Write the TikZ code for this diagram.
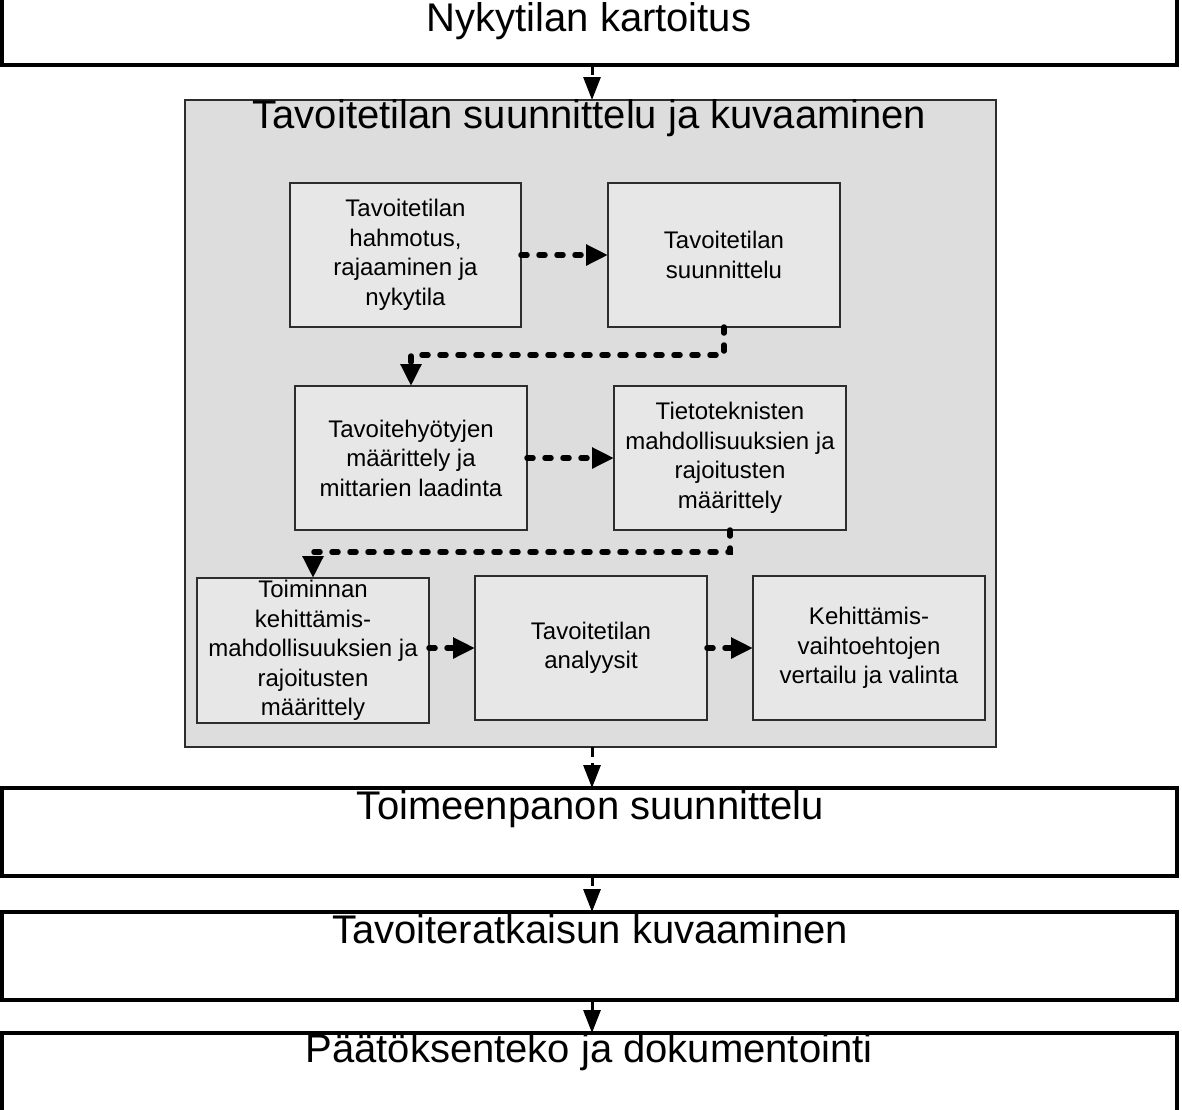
\documentclass[tikz,border=0pt]{standalone}
\usepackage{fontspec}
\setmainfont{Liberation Sans}
\usetikzlibrary{arrows.meta,calc}
\definecolor{panelgray}{RGB}{221,221,221}
\definecolor{innergray}{RGB}{231,231,231}
\definecolor{edgegray}{RGB}{45,45,45}
\begin{document}
\begin{tikzpicture}[x=1pt,y=-1pt,
  outerbox/.style={draw=black, line width=3.5pt, fill=white, inner sep=0pt, outer sep=0pt, minimum width=1175pt},
  panel/.style={draw=edgegray, line width=2pt, fill=panelgray, inner sep=0pt, outer sep=0pt},
  stepbox/.style={draw=edgegray, line width=2pt, fill=innergray, inner sep=0pt, outer sep=0pt,
    minimum width=232pt, minimum height=144pt, align=center, font=\fontsize{24}{29.5}\selectfont},
  titletxt/.style={font=\fontsize{40}{48}\selectfont, anchor=base, inner sep=0pt},
  flow/.style={line width=5.5pt, dash pattern=on 6pt off 12pt, line cap=round,
    -{Triangle[length=22pt,width=20pt]}},
  vflow/.style={line width=3pt, dash pattern=on 10pt off 6pt,
    -{Triangle[length=23pt,width=17pt]}}
]
\useasboundingbox (0,0) rectangle (1182,1109);
\fill[white] (0,0) rectangle (1182,1109);

% outer boxes
\node[outerbox, minimum height=67pt] (top) at (589.5,31.5) {};
\node[titletxt] (toptxt) at (589,31) {Nykytilan kartoitus};

\node[panel, minimum width=811pt, minimum height=647pt] (panel) at (590.5,423.5) {};
\node[titletxt] (paneltxt) at (589.5,128) {Tavoitetilan suunnittelu ja kuvaaminen};

\node[outerbox, minimum height=88pt] (impl) at (589.5,832) {};
\node[titletxt] (impltxt) at (590.5,819) {Toimeenpanon suunnittelu};

\node[outerbox, minimum height=88pt] (sol) at (589.5,956) {};
\node[titletxt] (soltxt) at (590,943) {Tavoiteratkaisun kuvaaminen};

\node[outerbox, minimum height=88pt] (dec) at (589.5,1077) {};
\node[titletxt] (dectxt) at (589,1062) {Päätöksenteko ja dokumentointi};

% inner steps
\node[stepbox, minimum width=231pt] (b1) at (405.5,255) {Tavoitetilan\\hahmotus,\\rajaaminen ja\\nykytila};
\node[stepbox] (b2) at (724,255) {Tavoitetilan\\suunnittelu};
\node[stepbox] (b3) at (411,458) {Tavoitehyötyjen\\määrittely ja\\mittarien laadinta};
\node[stepbox] (b4) at (730,458) {Tietoteknisten\\mahdollisuuksien ja\\rajoitusten\\määrittely};
\node[stepbox, minimum height=145pt] (b5) at (313,650.5) {Toiminnan\\kehittämis-\\mahdollisuuksien ja\\rajoitusten\\määrittely};
\node[stepbox] (b6) at (591,648) {Tavoitetilan\\analyysit};
\node[stepbox] (b7) at (869,648) {Kehittämis-\\vaihtoehtojen\\vertailu ja valinta};

% inner connectors
\draw[flow] (b1.east) -- (b1.east -| b2.west);
\draw[flow] (b2.south) -- ++(0,28) -| (b3.north);
\draw[flow] (b3.east |- b4.west) -- (b4.west);
\draw[flow] (b4.south) -- ++(0,22) -| (b5.north);
\draw[flow] (b5.east |- b6.west) -- (b6.west);
\draw[flow] (b6.east) -- (b7.west);

% outer connectors
\draw[vflow] ([xshift=2.5pt]top.south) -- ([xshift=2.5pt]top.south |- panel.north);
\draw[vflow] ([xshift=1.5pt]panel.south) -- ([xshift=1.5pt]panel.south |- impl.north);
\draw[vflow] ([xshift=2.5pt]impl.south) -- ([xshift=2.5pt]impl.south |- sol.north);
\draw[vflow] ([xshift=2.5pt]sol.south) -- ([xshift=2.5pt]sol.south |- dec.north);
\end{tikzpicture}
\end{document}
